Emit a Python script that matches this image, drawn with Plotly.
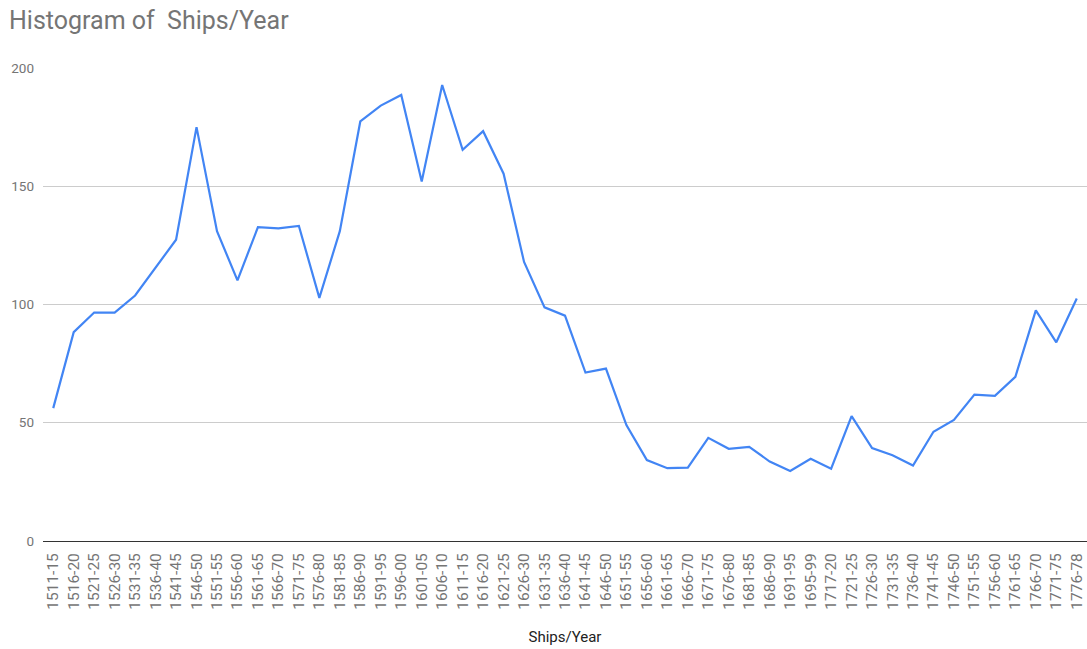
import plotly.graph_objects as go

# Five-year periods (category axis)
periods = [
    "1511-15", "1516-20", "1521-25", "1526-30", "1531-35", "1536-40", "1541-45",
    "1546-50", "1551-55", "1556-60", "1561-65", "1566-70", "1571-75", "1576-80",
    "1581-85", "1586-90", "1591-95", "1596-00", "1601-05", "1606-10", "1611-15",
    "1616-20", "1621-25", "1626-30", "1631-35", "1636-40", "1641-45", "1646-50",
    "1651-55", "1656-60", "1661-65", "1666-70", "1671-75", "1676-80", "1681-85",
    "1686-90", "1691-95", "1695-99", "1717-20", "1721-25", "1726-30", "1731-35",
    "1736-40", "1741-45", "1746-50", "1751-55", "1756-60", "1761-65", "1766-70",
    "1771-75", "1776-78",
]

# Average ships per year in each period
ships_per_year = [
    56.2, 88.3, 96.6, 96.6, 103.8, 115.6, 127.4,
    175.0, 131.0, 110.2, 132.7, 132.2, 133.2, 102.8,
    131.0, 177.4, 184.1, 188.6, 152.0, 192.8, 165.4,
    173.3, 155.3, 118.0, 98.8, 95.3, 71.2, 72.9,
    49.0, 34.2, 30.8, 31.0, 43.6, 39.0, 39.8,
    33.6, 29.6, 34.8, 30.6, 52.8, 39.3, 36.3,
    31.9, 46.2, 51.2, 61.9, 61.4, 69.4, 97.5,
    84.0, 102.5,
]

y_ticks = [0, 50, 100, 150, 200]

fig = go.Figure(
    go.Scatter(
        x=periods,
        y=ships_per_year,
        mode="lines",
        line=dict(color="#4285F4", width=2.2),
        hoverinfo="x+y",
    )
)

fig.update_layout(
    width=1087,
    height=649,
    paper_bgcolor="white",
    plot_bgcolor="white",
    margin=dict(l=43, r=0, t=68, b=108),
    showlegend=False,
    font=dict(family="Roboto", color="#757575"),
    title=dict(
        text="Histogram of  Ships/Year",
        font=dict(family="Roboto", size=25, color="#757575"),
        x=9 / 1087,
        xanchor="left",
        xref="container",
        y=1 - 20 / 649,
        yanchor="middle",
        yref="container",
    ),
)

fig.update_xaxes(
    type="category",
    range=[-0.5, len(periods) - 0.5],
    tickangle=-90,
    tickfont=dict(family="Roboto", size=15.5, color="#757575"),
    showgrid=False,
    showline=True,
    linecolor="#333333",
    linewidth=1,
    ticks="",
    ticklabelstandoff=5,
    title=dict(
        text="Ships/Year",
        font=dict(family="Roboto", size=15, color="#222222"),
        standoff=22,
    ),
)

fig.update_yaxes(
    range=[0, 200],
    tickvals=y_ticks,
    ticktext=[str(v) for v in y_ticks],
    tickfont=dict(family="Roboto", size=13.5, color="#757575"),
    showgrid=True,
    gridcolor="#cccccc",
    gridwidth=1,
    zeroline=False,
    showline=False,
    ticks="",
    ticklabelstandoff=8,
)

fig.write_html("out.html")
